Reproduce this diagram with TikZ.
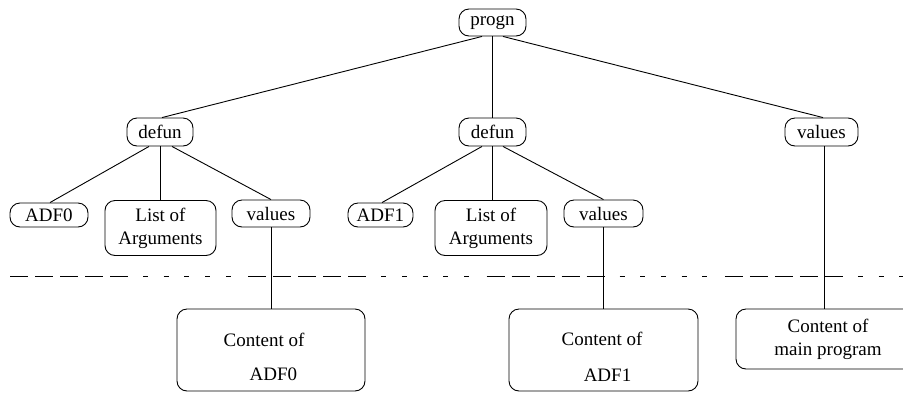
\documentclass[tikz,border=0pt]{standalone}
\usepackage{fontspec}
\setmainfont{Liberation Serif}
\begin{document}
\begin{tikzpicture}[x=1pt,y=-1pt,
  every node/.style={font=\fontsize{19}{23}\selectfont},
  pill/.style={draw, rounded corners=10pt, line width=0.9pt, inner sep=0pt, minimum height=27pt},
  bigbox/.style={draw, rounded corners=10pt, line width=0.9pt, inner sep=0pt},
  txt/.style={inner sep=0pt, anchor=base},
  edge/.style={line width=0.9pt},
  sepline/.style={line width=0.9pt, dash pattern=on 18pt off 7pt on 18pt off 7pt on 18pt off 7pt on 18pt off 7pt on 18pt off 15pt on 5pt off 15.7pt on 5pt off 15.7pt on 5pt off 15.7pt on 5pt off 15.7pt on 5pt off 17.5pt}]
\useasboundingbox (0,0) rectangle (903,392);

% dashed separator
\coordinate (dl) at (10,276);
\coordinate (dr) at (903,276);
\draw[sepline] (dl) -- (dr);

% nodes
\node[pill, minimum width=67pt] (progn) at (492.5,22.5) {progn};
\node[pill, minimum width=66pt, minimum height=28pt] (defA) at (160,132) {defun};
\node[pill, minimum width=67pt, minimum height=28pt] (defB) at (492.5,132) {defun};
\node[pill, minimum width=73pt, minimum height=28pt] (valM) at (821.5,132) {values};

\node[pill, minimum width=78pt, minimum height=24pt] (adf0) at (49,215) {ADF0};
\node[bigbox, minimum width=111pt, minimum height=55pt, align=center] (argA) at (160.5,228) {List of\\Arguments};
\node[pill, minimum width=78pt] (valA) at (271,213.5) {values};

\node[pill, minimum width=65pt, minimum height=24pt] (adf1) at (380.5,215) {ADF1};
\node[bigbox, minimum width=112pt, minimum height=55pt, align=center] (argB) at (491,228) {List of\\Arguments};
\node[pill, minimum width=79pt] (valB) at (603.5,213.5) {values};

\node[bigbox, minimum width=188pt, minimum height=82pt] (cA) at (271,350) {};
\node[txt] (cA1) at (264,346.5) {Content of};
\node[txt] (cA2) at (273.5,380.5) {ADF0};

\node[bigbox, minimum width=189pt, minimum height=82pt] (cB) at (603.5,350) {};
\node[txt] (cB1) at (602,345.5) {Content of};
\node[txt] (cB2) at (607.5,381) {ADF1};

\node[bigbox, minimum width=184pt, minimum height=60pt, align=center] (cM) at (828,339) {Content of\\main program};

% connectors
\draw[edge] ([xshift=-10.5pt]progn.south) -- ([xshift=2pt]defA.north);
\draw[edge] (progn.south) -- (defB.north);
\draw[edge] ([xshift=10.5pt]progn.south) -- ([xshift=1.5pt]valM.north);

\draw[edge] ([xshift=-11pt]defA.south) -- ([xshift=1pt]adf0.north);
\draw[edge] (defA.south) -- (defA.south |- argA.north);
\draw[edge] ([xshift=12pt]defA.south) -- (valA.north);

\draw[edge] ([xshift=-10.5pt]defB.south) -- ([xshift=1.5pt]adf1.north);
\draw[edge] (defB.south) -- (defB.south |- argB.north);
\draw[edge] ([xshift=10.5pt]defB.south) -- (valB.north);

\draw[edge] (valA.south) -- (cA.north);
\draw[edge] (valB.south) -- (cB.north);
\draw[edge] ([xshift=3pt]valM.south) -- ([xshift=3pt]valM.south |- cM.north);
\end{tikzpicture}
\end{document}
